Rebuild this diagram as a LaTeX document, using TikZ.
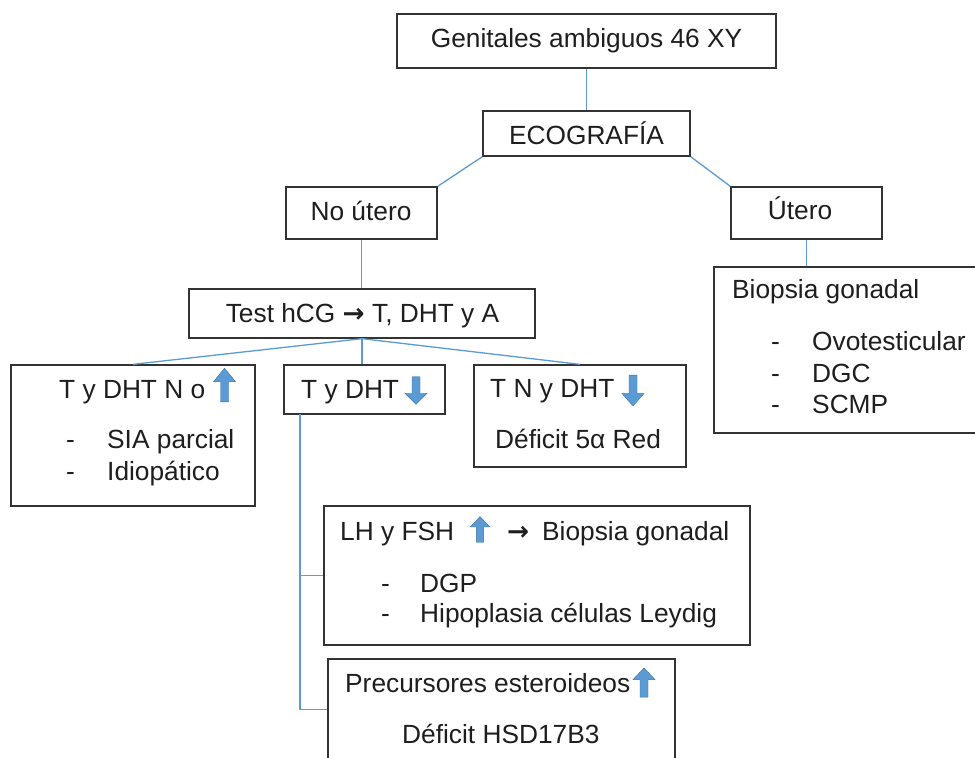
\documentclass[tikz,border=0pt]{standalone}
\usepackage{fontspec}
\setmainfont{Liberation Sans}
\newfontfamily\arrfont{DejaVu Sans}
\usetikzlibrary{fit}
\definecolor{conn}{RGB}{91,155,213}
\definecolor{arrfill}{RGB}{91,155,213}
\definecolor{arrline}{RGB}{65,113,156}
\definecolor{txtc}{RGB}{30,30,30}
\newcommand{\fsz}{\fontsize{26.3}{30}\selectfont}
\newcommand{\rarr}{{\arrfont\bfseries →}}
\begin{document}
\begin{tikzpicture}[x=1pt,y=-1pt,
  box/.style={draw=black!80, line width=1.3pt, inner sep=0pt, fill=none},
  txt/.style={inner sep=0pt, text=txtc, font=\fsz, anchor=base west},
  ctxt/.style={inner sep=0pt, text=txtc, font=\fsz, anchor=base},
  link/.style={draw=conn, line width=1.3pt},
  uparr/.pic={\filldraw[fill=arrfill, draw=arrline, line width=0.4pt]
     (-4,15) -- (-4,-3) -- (-11,-3) -- (0,-15) -- (11,-3) -- (4,-3) -- (4,15) -- cycle;},
  downarr/.pic={\filldraw[fill=arrfill, draw=arrline, line width=0.4pt]
     (-4,-15) -- (-4,3) -- (-11,3) -- (0,15) -- (11,3) -- (4,3) -- (4,-15) -- cycle;}
]
\clip (0,0) rectangle (975,758);
\fill[white] (0,0) rectangle (975,758);

% boxes
\node[box, fit={(397,14)(776,68)}] (top) {};
\node[box, fit={(483,111)(690,156)}] (eco) {};
\node[box, fit={(286,187)(437,239)}] (nout) {};
\node[box, fit={(731,187)(882,239)}] (ute) {};
\node[box, fit={(189,289)(535,338)}] (test) {};
\node[box, fit={(11,365)(255,506)}] (lbox) {};
\node[box, fit={(284,365)(445,414)}] (mbox) {};
\node[box, fit={(474,365)(686,467)}] (rbox) {};
\node[box, fit={(714,267)(985,433)}] (bbox) {};
\node[box, fit={(324,506)(750,645)}] (lhbox) {};
\node[box, fit={(328,659)(675,760)}] (prbox) {};

% connectors
\coordinate (vtop) at (300,414);
\draw[link] (top.south) -- (eco.north);
\draw[link] (eco.south west) -- (nout.north east);
\draw[link] (eco.south east) -- (ute.north west);
\draw[link] (nout.south) -- (nout.south |- test.north);
\draw[link] (test.south) -- (lbox.north);
\draw[link] (test.south) -- (test.south |- mbox.north);
\draw[link] (test.south) -- (rbox.north);
\draw[link] (ute.south) -- (ute.south |- bbox.north);
\draw[link] (vtop) |- (lhbox.west);
\draw[link] (vtop) |- (prbox.west);

% texts
\node[ctxt] (t-top) at (586.5,47) {Genitales ambiguos 46 XY};
\node[ctxt] (t-eco) at (586.5,144) {ECOGRAFÍA};
\node[ctxt] (t-nout) at (361,220) {No útero};
\node[ctxt] (t-ute) at (800,219) {Útero};
\node[ctxt] (t-test) at (362.5,322) {Test hCG \rarr{} T, DHT y A};

\node[txt] (t-l1) at (59,398) {T y DHT N o};
\pic at (224.5,385) [yscale=1.12] {uparr};
\node[txt] (t-l2d) at (66,448) {-};
\node[txt] (t-l2) at (107,448) {SIA parcial};
\node[txt] (t-l3d) at (66,480) {-};
\node[txt] (t-l3) at (107,480) {Idiopático};

\node[txt] (t-m1) at (301,398) {T y DHT};
\pic at (416,390.5) [yscale=0.92] {downarr};

\node[txt] (t-r1) at (490,397) {T N y DHT};
\pic at (633,390.5) [yscale=1.03] {downarr};
\node[txt] (t-r2) at (495,448) {Déficit 5α Red};

\node[txt] (t-b1) at (732,298) {Biopsia gonadal};
\node[txt] (t-b2d) at (771,350) {-};
\node[txt] (t-b2) at (812,350) {Ovotesticular};
\node[txt] (t-b3d) at (771,382) {-};
\node[txt] (t-b3) at (812,382) {DGC};
\node[txt] (t-b4d) at (771,413) {-};
\node[txt] (t-b4) at (812,413) {SCMP};

\node[txt] (t-lh1) at (340,540) {LH y FSH};
\pic at (480,529.5) [yscale=0.85, xscale=0.92] {uparr};
\node[txt] (t-lh2) at (507,540) {\rarr};
\node[txt] (t-lh3) at (542,540) {Biopsia gonadal};
\node[txt] (t-lh4d) at (381,592) {-};
\node[txt] (t-lh4) at (420,592) {DGP};
\node[txt] (t-lh5d) at (381,622) {-};
\node[txt] (t-lh5) at (420,622) {Hipoplasia células Leydig};

\node[txt] (t-p1) at (345,692) {Precursores esteroideos};
\pic at (644,682.5) [yscale=0.97] {uparr};
\node[txt] (t-p2) at (402,743) {Déficit HSD17B3};
\end{tikzpicture}
\end{document}
